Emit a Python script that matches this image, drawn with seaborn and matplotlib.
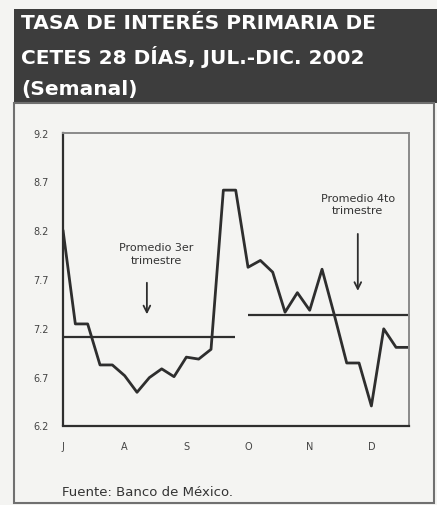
import matplotlib
matplotlib.use("Agg")
import matplotlib.pyplot as plt
from matplotlib.patches import Rectangle
import numpy as np
import pandas as pd
import seaborn as sns

# datos
semana = list(range(29))
tasa = [8.20, 7.24, 7.24, 6.82, 6.82, 6.71, 6.54, 6.69, 6.78, 6.70,
        6.90, 6.88, 6.98, 8.61, 8.61, 7.82, 7.89, 7.77, 7.36, 7.56,
        7.38, 7.80, 7.33, 6.84, 6.84, 6.40, 7.19, 7.00, 7.00]
meses = ['J', 'A', 'S', 'O', 'N', 'D']
mes_pos = [0, 5, 10, 15, 20, 25]
promedios = [7.11, 7.33]
promedio_ini = [0, 14.96]
promedio_fin = [13.95, 28]
yticks = [6.2, 6.7, 7.2, 7.7, 8.2, 8.7, 9.2]

bg = '#f4f4f2'
ink = '#2e2e2e'

sns.set_style('white')
plt.rcParams['font.family'] = ['DejaVu Sans']

df = pd.DataFrame({'semana': semana, 'tasa': tasa})

fig = plt.figure(figsize=(4.37, 5.06), dpi=100, facecolor=bg)
ax = fig.add_axes([63/437, 1 - 426.5/506, 346/437, 293/506])
ax.set_facecolor(bg)

sns.lineplot(data=df, x='semana', y='tasa', color=ink, lw=2.0, ax=ax)
for v, a, b in zip(promedios, promedio_ini, promedio_fin):
    ax.hlines(v, a, b, color=ink, lw=1.6)

ax.set_xlim(0, 28.05)
ax.set_ylim(6.2, 9.2)
ax.set_xticks(mes_pos)
ax.set_xticklabels(meses)
ax.set_yticks(yticks)
ax.set_yticklabels([f'{t:.1f}' for t in yticks])
ax.set_xlabel('')
ax.set_ylabel('')
ax.tick_params(axis='x', direction='inout', length=7, width=1.2, color=ink,
               pad=8, labelsize=7, labelcolor='#444444')
ax.tick_params(axis='y', direction='out', length=4, width=1.2, color=ink,
               pad=6, labelsize=7, labelcolor='#444444')

for s in ['left', 'bottom']:
    ax.spines[s].set_color(ink)
    ax.spines[s].set_linewidth(1.6)
for s in ['top', 'right']:
    ax.spines[s].set_color('#8a8a8a')
    ax.spines[s].set_linewidth(1.4)

# anotaciones
ax.text(7.55, 7.96, 'Promedio 3er\ntrimestre', ha='center', va='center',
        fontsize=8, color='#333333', linespacing=1.3)
ax.annotate('', xy=(6.8, 7.31), xytext=(6.8, 7.69),
            arrowprops=dict(arrowstyle='->', color=ink, lw=1.3, mutation_scale=12))
ax.text(23.9, 8.47, 'Promedio 4to\ntrimestre', ha='center', va='center',
        fontsize=8, color='#333333', linespacing=1.3)
ax.annotate('', xy=(23.9, 7.55), xytext=(23.9, 8.19),
            arrowprops=dict(arrowstyle='->', color=ink, lw=1.3, mutation_scale=12))

# encabezado y marco
fig.patches.append(Rectangle((14/437, 1 - 104/506), 423/437, 94/506,
                             transform=fig.transFigure, facecolor='#3d3d3d',
                             edgecolor='none', zorder=0))
fig.patches.append(Rectangle((14/437, 1 - 504/506), 420/437, 400/506,
                             transform=fig.transFigure, facecolor='none',
                             edgecolor='#707070', lw=1.5, zorder=1))
titulo = ['TASA DE INTERÉS PRIMARIA DE', 'CETES 28 DÍAS, JUL.-DIC. 2002', '(Semanal)']
for i, t in enumerate(titulo):
    fig.text(21/437, 1 - (24 + 33 * i)/506, t, color='white', fontsize=14.5,
             fontweight='bold', ha='left', va='center')

fig.text(62/437, 1 - 493/506, 'Fuente: Banco de México.', fontsize=9.5,
         color='#333333', ha='left', va='center')

fig.savefig('out.png', dpi=100, facecolor=bg)
